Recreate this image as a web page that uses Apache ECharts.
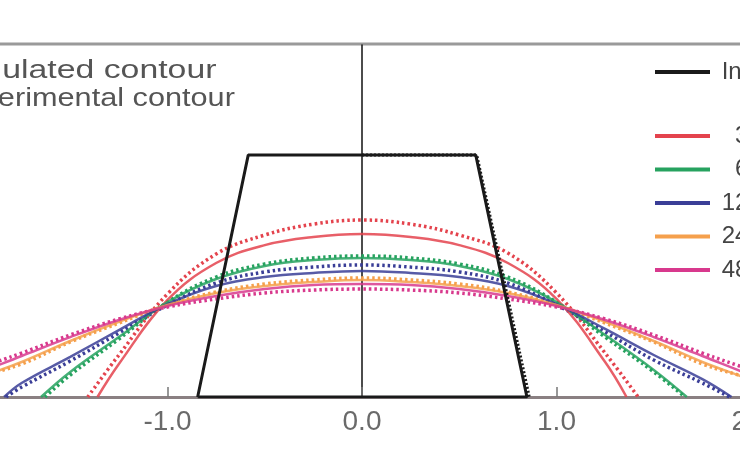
<!DOCTYPE html>
<html>
<head>
<meta charset="utf-8">
<style>html,body{margin:0;padding:0;background:#fff;}#c{width:740px;height:460px;}</style>
<script src="https://cdn.jsdelivr.net/npm/echarts@6/dist/echarts.min.js"></script>
</head>
<body>
<div id="c"></div>
<script>
// x sample positions (shared)
const X = [-2.2,-2.0,-1.75,-1.5,-1.25,-1.0,-0.75,-0.5,-0.25,0,0.25,0.5,0.75,1.0,1.25,1.5,1.75,2.0,2.2];
const xTicks = [-2,-1,0,1,2];

// initial contour (trapezoid)
const initialX = [-0.845,-0.585,0.585,0.848];
const initialY = [0,1.244,1.244,0];
const initialExpX = [0,0.59,0.86];
const initialExpY = [1.244,1.244,0];

// simulated (solid) contours
const sim3h  = [null,null,null,null,0.170,0.499,0.689,0.781,0.823,0.838,0.823,0.781,0.689,0.504,0.180,null,null,null,null];
const sim6h  = [null,null,null,0.129,0.308,0.488,0.607,0.674,0.704,0.715,0.704,0.674,0.607,0.488,0.319,0.139,null,null,null];
const sim12h = [null,null,0.072,0.206,0.344,0.478,0.571,0.617,0.638,0.648,0.638,0.617,0.571,0.478,0.350,0.216,0.092,null,null];
const sim24h = [null,0.087,0.180,0.288,0.386,0.473,0.535,0.571,0.591,0.602,0.591,0.571,0.535,0.473,0.386,0.288,0.180,0.087,null];
const sim48h = [0.041,0.113,0.211,0.308,0.396,0.468,0.519,0.555,0.576,0.581,0.576,0.555,0.519,0.468,0.396,0.308,0.211,0.113,0.041];
// experimental (dotted) contours
const exp3h  = [null,null,null,null,0.216,0.530,0.735,0.833,0.889,0.910,0.889,0.833,0.740,0.535,0.226,null,null,null,null];
const exp6h  = [null,null,null,0.113,0.298,0.488,0.617,0.684,0.715,0.725,0.715,0.684,0.617,0.488,0.308,0.129,null,null,null];
const exp12h = [null,null,0.051,0.185,0.329,0.473,0.586,0.643,0.668,0.679,0.668,0.643,0.586,0.473,0.335,0.190,0.072,null,null];
const exp24h = [null,0.093,0.170,0.283,0.380,0.473,0.540,0.581,0.602,0.612,0.602,0.581,0.540,0.473,0.380,0.283,0.170,0.093,null];
const exp48h = [0.072,0.139,0.226,0.319,0.401,0.463,0.504,0.535,0.550,0.555,0.550,0.535,0.504,0.463,0.401,0.319,0.226,0.139,0.072];
// zero crossings [left, right]
const end3hSim = [-1.36,1.36],  end3hExp = [-1.41,1.42];
const end6hSim = [-1.65,1.67],  end6hExp = [-1.63,1.66];
const end12hSim = [-1.84,1.90], end12hExp = [-1.83,1.89];
const end24hSim = [-2.2,2.2],   end24hExp = [-2.25,2.25];
const end48hSim = [-2.3,2.3],   end48hExp = [-2.4,2.4];

const names = ['\u20073 h','\u20076 h','12 h','24 h','48 h'];
const colors = ['#e4434d','#26a25f','#3a3e97','#f5a04c','#d8398d'];

function build(ys, ends){
  const d = [[ends[0],0]];
  X.forEach((x,i)=>{ if(ys[i]!==null) d.push([x,ys[i]]); });
  d.push([ends[1],0]);
  return d;
}
function zip(a,b){ return a.map((v,i)=>[v,b[i]]); }

const sims = [[sim3h,end3hSim],[sim6h,end6hSim],[sim12h,end12hSim],[sim24h,end24hSim],[sim48h,end48hSim]];
const exps = [[exp3h,end3hExp],[exp6h,end6hExp],[exp12h,end12hExp],[exp24h,end24hExp],[exp48h,end48hExp]];

const series = [];
exps.forEach((e,i)=>{
  series.push({name:names[i]+' exp', type:'line', data:build(e[0],e[1]), smooth:0.4, showSymbol:false,
    color:colors[i], lineStyle:{color:colors[i], width:3.5, type:[2.5,3]}, z:3});
});
sims.forEach((s,i)=>{
  series.push({name:names[i], type:'line', data:build(s[0],s[1]), smooth:0.4, showSymbol:false,
    color:colors[i], lineStyle:{color:colors[i], width:2.5, opacity:0.85}, z:4});
});
series.push({name:'Initial contour', type:'line', data:zip(initialX,initialY).concat([[initialX[0],0]]), showSymbol:false,
  color:'#1a1a1a', lineStyle:{color:'#1a1a1a', width:3}, z:5});
series.push({name:'Initial exp', type:'line', data:zip(initialExpX,initialExpY), showSymbol:false,
  color:'#1a1a1a', lineStyle:{color:'#1a1a1a', width:3, type:[2,2]}, z:5});

const chart = echarts.init(document.getElementById('c'), null, {renderer:'canvas'});
chart.setOption({
  animation:false,
  backgroundColor:'#fff',
  grid:{left:-27, right:-11, top:45, bottom:63, containLabel:false, outerBoundsMode:'none'},
  xAxis:{type:'value', min:-2, max:2, interval:1,
    axisLine:{lineStyle:{color:'#8a8082', width:3}},
    axisTick:{show:true, inside:true, length:10, lineStyle:{color:'#777', width:1.5}},
    axisLabel:{formatter:v=>v.toFixed(1), fontSize:28, color:'#6a6a6a', margin:11, fontFamily:'Liberation Sans', showMinLabel:true, showMaxLabel:true, hideOverlap:false},
    splitLine:{show:false}},
  yAxis:{type:'value', min:0, max:1.81,
    axisLine:{show:true, onZero:true, lineStyle:{color:'#111', width:1.5}},
    axisTick:{show:false}, axisLabel:{show:false}, splitLine:{show:false}},
  legend:[
    {data:['Initial contour'], orient:'vertical', left:655, top:60, padding:0, icon:'rect', itemWidth:55, itemHeight:4,
      formatter:n=>' '+n, textStyle:{fontSize:24, color:'#444', fontFamily:'Liberation Sans', lineHeight:24}},
    {data:names, orient:'vertical', left:655, top:124, padding:0, icon:'rect', itemWidth:55, itemHeight:4, itemGap:9.5,
      formatter:n=>' '+n, textStyle:{fontSize:24, color:'#444', fontFamily:'Liberation Sans', lineHeight:24}}
  ],
  graphic:[
    {type:'line', shape:{x1:0,y1:44,x2:740,y2:44}, style:{stroke:'#9a9a9a', lineWidth:3}},
    {type:'text', x:-56, y:58, scaleX:1.3, style:{text:'Simulated contour', fontSize:26, fill:'#555', fontFamily:'Liberation Sans'}},
    {type:'text', x:-55, y:86, scaleX:1.18, style:{text:'Experimental contour', fontSize:26, fill:'#555', fontFamily:'Liberation Sans'}}
  ],
  series:series
});
</script>
</body>
</html>
